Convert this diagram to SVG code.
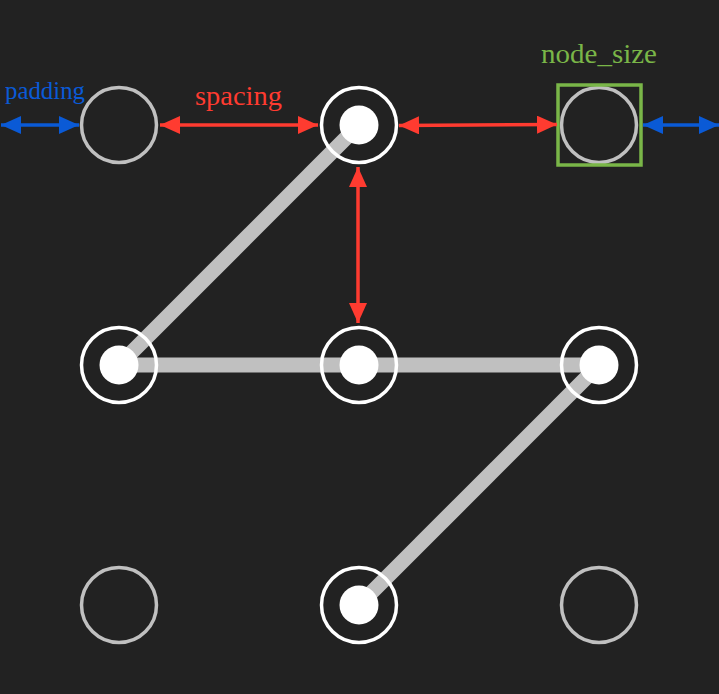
<svg xmlns="http://www.w3.org/2000/svg" width="719" height="694" viewBox="0 0 719 694">
<style>
.edge{stroke:#c0c0c0;stroke-width:15;fill:none}
.ring{fill:none;stroke:#ffffff;stroke-width:3.5}
.idle{fill:none;stroke:#c0c0c0;stroke-width:3.5}
.dot{fill:#ffffff}
.red{stroke:#ff3b30;stroke-width:3.5;fill:none}
.blue{stroke:#0a5ad6;stroke-width:3.5;fill:none}
.lbl{font-family:"Liberation Serif","Times New Roman",serif}
</style>
<defs>
<marker id="ar" markerUnits="userSpaceOnUse" markerWidth="20" markerHeight="18" refX="20" refY="9" orient="auto-start-reverse"><path d="M0,0 L20,9 L0,18 z" fill="#ff3b30"/></marker>
<marker id="ab" markerUnits="userSpaceOnUse" markerWidth="20" markerHeight="18" refX="20" refY="9" orient="auto-start-reverse"><path d="M0,0 L20,9 L0,18 z" fill="#0a5ad6"/></marker>
</defs>
<rect width="719" height="694" fill="#222222"/>
<g id="connectors">
<line class="edge" x1="359" y1="125" x2="119" y2="365"/>
<line class="edge" x1="119" y1="365" x2="599" y2="365"/>
<line class="edge" x1="599" y1="365" x2="359" y2="605"/>
</g>
<g id="n00"><circle class="idle" cx="119" cy="125" r="37.5"/></g>
<g id="n01"><circle class="ring" cx="359" cy="125" r="37.5"/><circle class="dot" cx="359" cy="125" r="19.5"/></g>
<g id="n02"><circle class="idle" cx="599" cy="125" r="37.5"/></g>
<g id="n10"><circle class="ring" cx="119" cy="365" r="37.5"/><circle class="dot" cx="119" cy="365" r="19.5"/></g>
<g id="n11"><circle class="ring" cx="359" cy="365" r="37.5"/><circle class="dot" cx="359" cy="365" r="19.5"/></g>
<g id="n12"><circle class="ring" cx="599" cy="365" r="37.5"/><circle class="dot" cx="599" cy="365" r="19.5"/></g>
<g id="n20"><circle class="idle" cx="119" cy="605" r="37.5"/></g>
<g id="n21"><circle class="ring" cx="359" cy="605" r="37.5"/><circle class="dot" cx="359" cy="605" r="19.5"/></g>
<g id="n22"><circle class="idle" cx="599" cy="605" r="37.5"/></g>
<g id="annotations">
<rect x="558" y="85" width="83" height="80" fill="none" stroke="#7ab648" stroke-width="3.5"/>
<line class="blue" x1="1" y1="125" x2="79" y2="125" marker-start="url(#ab)" marker-end="url(#ab)"/>
<line class="blue" x1="643" y1="125" x2="719" y2="125" marker-start="url(#ab)" marker-end="url(#ab)"/>
<line class="red" x1="160" y1="125" x2="318" y2="125" marker-start="url(#ar)" marker-end="url(#ar)"/>
<line class="red" x1="399" y1="125.5" x2="557" y2="124.5" marker-start="url(#ar)" marker-end="url(#ar)"/>
<line class="red" x1="358" y1="167" x2="358" y2="323" marker-start="url(#ar)" marker-end="url(#ar)"/>
<text class="lbl" x="5" y="99" font-size="25" fill="#0a5ad6" textLength="80" lengthAdjust="spacingAndGlyphs">padding</text>
<text class="lbl" x="195" y="105" font-size="27" fill="#ff3b30" textLength="87" lengthAdjust="spacingAndGlyphs">spacing</text>
<text class="lbl" x="541" y="63" font-size="27" fill="#7ab648" textLength="116" lengthAdjust="spacingAndGlyphs">node_size</text>
</g>
</svg>
